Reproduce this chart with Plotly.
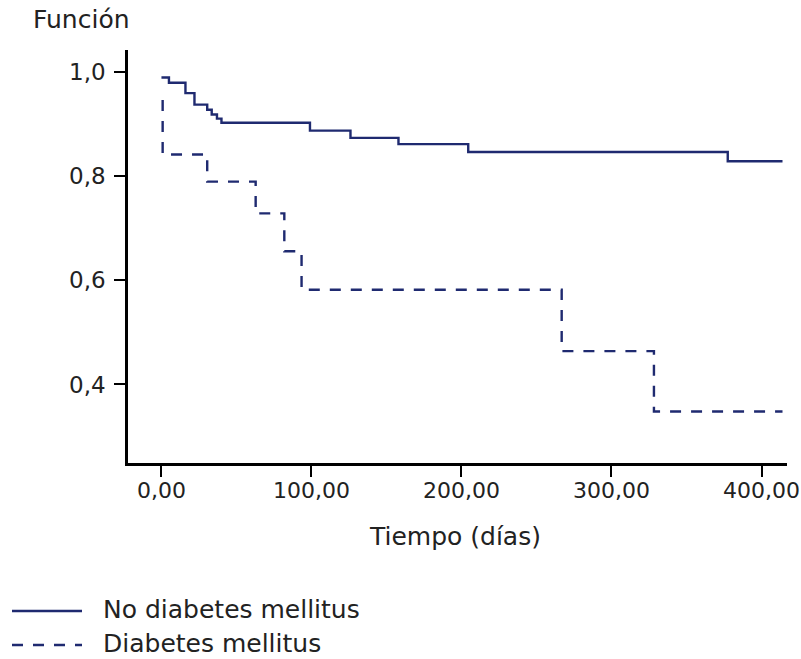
import plotly.graph_objects as go

# Kaplan-Meier step data
no_dm_time = [0, 5, 16, 22, 30.5, 33.5, 37, 40, 99, 126, 158, 204.5, 377.5, 414]
no_dm_surv = [0.990, 0.980, 0.960, 0.938, 0.928, 0.919, 0.911, 0.903, 0.888, 0.874, 0.862, 0.847, 0.829, 0.829]

dm_time = [0.8, 0.8, 30.5, 62.8, 81.9, 93.4, 266.8, 328.3, 414]
dm_surv = [0.947, 0.842, 0.790, 0.729, 0.656, 0.582, 0.464, 0.348, 0.348]

x_tickvals = [0, 100, 200, 300, 400]
x_ticktext = ["0,00", "100,00", "200,00", "300,00", "400,00"]
y_tickvals = [0.4, 0.6, 0.8, 1.0]
y_ticktext = ["0,4", "0,6", "0,8", "1,0"]

series_names = ["No diabetes mellitus", "Diabetes mellitus"]

LINE_COLOR = "#1f2a70"
TEXT_COLOR = "#222222"
FONT = "Verdana, DejaVu Sans, sans-serif"
DASH = "11px,10px"
TICK_SIZE = 22
LABEL_SIZE = 25

fig = go.Figure()
fig.add_trace(go.Scatter(x=no_dm_time, y=no_dm_surv, mode="lines", line_shape="hv",
                         line=dict(color=LINE_COLOR, width=2.4), name=series_names[0],
                         showlegend=False, hoverinfo="skip"))
fig.add_trace(go.Scatter(x=dm_time, y=dm_surv, mode="lines", line_shape="hv",
                         line=dict(color=LINE_COLOR, width=2.4, dash=DASH), name=series_names[1],
                         showlegend=False, hoverinfo="skip"))

W, H = 801, 659
ml, mr, mt, mb = 128, 14, 50, 196
PW, PH = W - ml - mr, H - mt - mb

fig.update_layout(
    template="none",
    width=W, height=H,
    margin=dict(l=ml, r=mr, t=mt, b=mb, pad=0, autoexpand=False),
    paper_bgcolor="white", plot_bgcolor="white",
    font=dict(family=FONT, size=LABEL_SIZE, color=TEXT_COLOR),
    showlegend=False,
    xaxis=dict(range=[-22.3, 417], tickvals=x_tickvals, ticktext=x_ticktext, automargin=False,
               showgrid=False, zeroline=False, showline=True, linecolor="black", linewidth=2.5,
               ticks="outside", ticklen=11, tickwidth=2, tickcolor="black",
               ticklabeloverflow="allow", ticklabelstandoff=-5,
               tickfont=dict(family=FONT, size=TICK_SIZE, color=TEXT_COLOR)),
    yaxis=dict(range=[0.249, 1.043], tickvals=y_tickvals, ticktext=y_ticktext, automargin=False,
               showgrid=False, zeroline=False, showline=True, linecolor="black", linewidth=2.5,
               ticks="outside", ticklen=11, tickwidth=2, tickcolor="black",
               ticklabelstandoff=4, ticklabeloverflow="allow",
               tickfont=dict(family=FONT, size=23, color=TEXT_COLOR)),
)

def px_x(px):
    return (px - ml) / PW

def px_y(py):
    return (H - mb - py) / PH

annotations = [
    dict(text="Función", x=px_x(31), y=px_y(20), xref="paper", yref="paper",
         xanchor="left", yanchor="middle", showarrow=False),
    dict(text="Tiempo (días)", x=px_x(455), y=px_y(536), xref="paper", yref="paper",
         xanchor="center", yanchor="middle", showarrow=False),
    dict(text=series_names[0], x=px_x(101), y=px_y(609), xref="paper", yref="paper",
         xanchor="left", yanchor="middle", showarrow=False),
    dict(text=series_names[1], x=px_x(101), y=px_y(643), xref="paper", yref="paper",
         xanchor="left", yanchor="middle", showarrow=False),
]
fig.update_layout(annotations=annotations)

shapes = [
    dict(type="line", xref="paper", yref="paper", x0=px_x(12), x1=px_x(82),
         y0=px_y(611), y1=px_y(611), line=dict(color=LINE_COLOR, width=2.4)),
    dict(type="line", xref="paper", yref="paper", x0=px_x(12), x1=px_x(82),
         y0=px_y(645), y1=px_y(645), line=dict(color=LINE_COLOR, width=2.4, dash=DASH)),
]
fig.update_layout(shapes=shapes)

fig.write_html("out.html", config={"displayModeBar": False},
               post_script="document.body.style.margin='0';")
